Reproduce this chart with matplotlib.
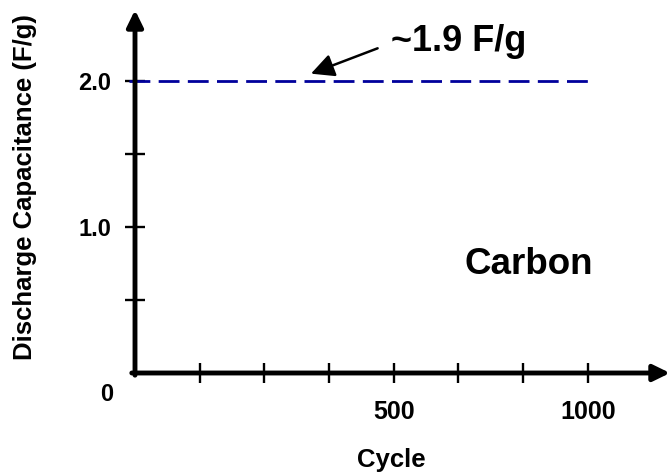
import matplotlib
matplotlib.use("Agg")
import matplotlib.pyplot as plt

plt.rcParams['font.family'] = ['Liberation Sans', 'DejaVu Sans']
plt.rcParams['font.weight'] = 'bold'

# x ticks are evenly spaced marks; only two carry labels
x_ticks = [1, 2, 3, 4, 5, 6, 7]
x_tick_labels = ['', '', '', '500', '', '', '1000']
y_ticks = [0.5, 1.0, 1.5, 2.0]
y_tick_labels = ['', '1.0', '', '2.0']

# dashed reference level (capacitance, F/g) over the drawn cycle span
line_x = [-0.1, 7.05]
line_y = [2.0, 2.0]

fig = plt.figure(figsize=(6.7, 4.76), dpi=100)
ax = fig.add_axes([135/670, 103/476, 535/670, 363/476])
ax.set_xlim(0, 8.27)
ax.set_ylim(0, 2.486)

for s in ['top', 'right', 'left', 'bottom']:
    ax.spines[s].set_visible(False)

# axes with arrow heads
arrow_kw = dict(arrowstyle='-|>,head_length=0.45,head_width=0.22', lw=3.5,
                color='black', shrinkA=0, shrinkB=0, mutation_scale=22)
ax.annotate('', xy=(0, 1), xytext=(0, -0.006), xycoords='axes fraction',
            arrowprops=arrow_kw, annotation_clip=False)
ax.annotate('', xy=(1, 0), xytext=(-0.006, 0), xycoords='axes fraction',
            arrowprops=arrow_kw, annotation_clip=False)

ax.set_xticks(x_ticks)
ax.set_xticklabels(x_tick_labels, fontsize=18, fontweight='bold')
ax.set_yticks(y_ticks)
ax.set_yticklabels(y_tick_labels, fontsize=17, fontweight='bold')
ax.tick_params(axis='x', direction='inout', length=15, width=1.7, pad=12)
ax.tick_params(axis='y', direction='inout', length=14, width=1.7, pad=10)

ax.text(-0.43, -0.15, '0', fontsize=17, fontweight='bold', ha='center', va='center',
        clip_on=False)

ax.plot(line_x, line_y, color='#00009C', lw=2, dashes=(7.5, 3), clip_on=False)

ax.annotate('~1.9 F/g', xy=(2.72, 2.05), xytext=(5.0, 2.27),
            fontsize=26, fontweight='bold', ha='center', va='center',
            arrowprops=dict(arrowstyle='-|>,head_length=0.7,head_width=0.35', lw=1.8,
                            color='black', shrinkA=8, shrinkB=0, mutation_scale=20,
                            relpos=(0, 0.45)))

ax.text(6.08, 0.74, 'Carbon', fontsize=26.5, fontweight='bold', ha='center', va='center')

ax.set_xlabel('Cycle', fontsize=18.5, fontweight='bold')
ax.xaxis.set_label_coords(0.4785, -0.24)
ax.xaxis.label.set_va('center')
ax.set_ylabel('Discharge Capacitance (F/g)', fontsize=18.5, fontweight='bold')
ax.yaxis.set_label_coords(-0.2056, 0.512)
ax.yaxis.label.set_va('center')

fig.savefig('out.png', dpi=100)
